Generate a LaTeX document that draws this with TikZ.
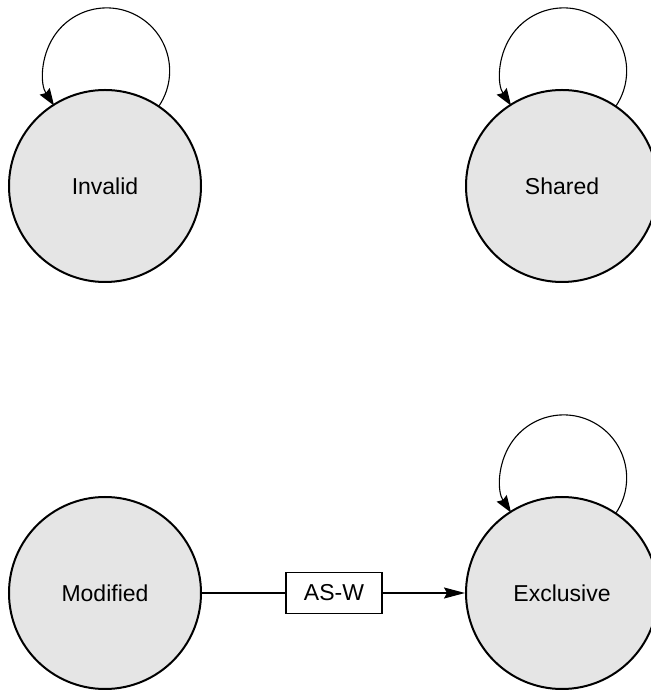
\documentclass[tikz,border=0pt]{standalone}
\usepackage{fontspec}
\setmainfont{Liberation Sans}
\usetikzlibrary{arrows.meta}
\definecolor{statefill}{HTML}{E5E5E5}
\begin{document}
\begin{tikzpicture}[x=1pt,y=1pt,
  state/.style={circle,draw,line width=2pt,fill=statefill,minimum size=192pt,inner sep=0pt,font=\fontsize{23}{27}\selectfont},
  label box/.style={draw,line width=1.5pt,fill=white,minimum width=96pt,minimum height=41pt,inner sep=0pt,font=\fontsize{23}{27}\selectfont},
  loop arc/.style={line width=1.1pt,-{Stealth[length=17pt,width=12pt,inset=2pt]}},
  edge line/.style={line width=1.5pt}
]
\useasboundingbox (0,0) rectangle (650,690);
\node[state] (inv) at (105,504) {Invalid};
\node[state] (sh) at (562,504) {Shared};
\node[state] (mod) at (105,97) {Modified};
\node[state] (exc) at (562,97) {Exclusive};
\node[label box] (asw) at (334,97) {AS-W};
% self loops
\draw[loop arc] (inv.56.8) arc[start angle=-33.4,end angle=213.4,radius=63];
\draw[loop arc] (sh.56.8) arc[start angle=-33.4,end angle=213.4,radius=63];
\draw[loop arc] (exc.56.8) arc[start angle=-33.4,end angle=213.4,radius=63];
% transition
\draw[edge line] (mod.east) -- (asw.west);
\draw[edge line,-{Stealth[length=21pt,width=11pt,inset=3pt]}] (asw.east) -- (exc.west);
\end{tikzpicture}
\end{document}
